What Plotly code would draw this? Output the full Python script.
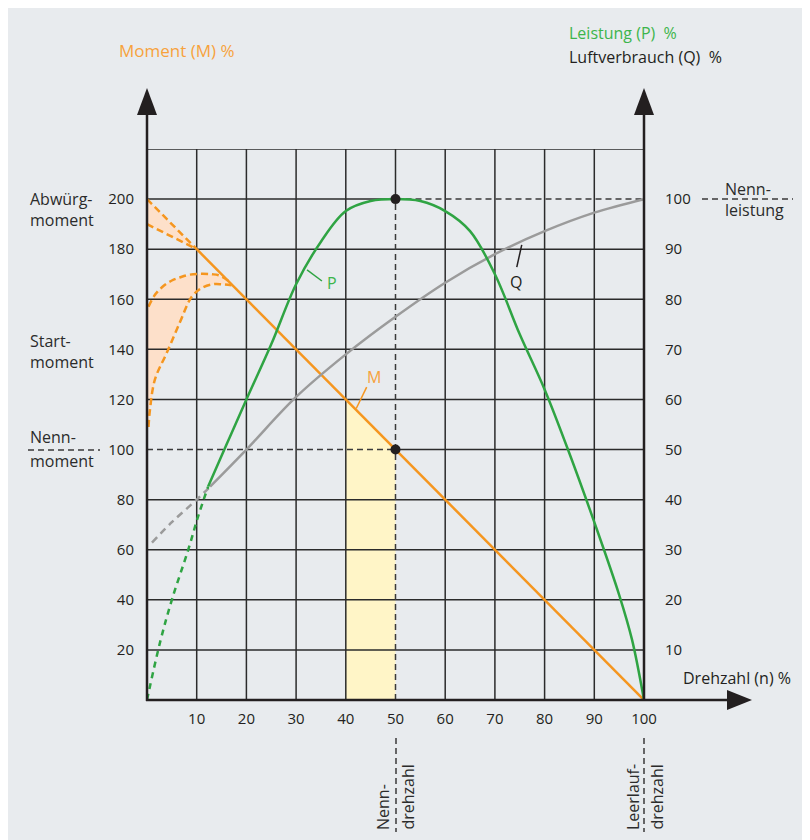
import plotly.graph_objects as go

# Drehzahl (n) in %, Moment (M) in % auf der linken Achse,
# Leistung (P) und Luftverbrauch (Q) in % auf der rechten Achse
grid_n = [10, 20, 30, 40, 50, 60, 70, 80, 90]
grid_m = [20, 40, 60, 80, 100, 120, 140, 160, 180, 200, 220]
x_ticks = [10, 20, 30, 40, 50, 60, 70, 80, 90, 100]
y_left_ticks = [20, 40, 60, 80, 100, 120, 140, 160, 180, 200]
y_right_ticks = [10, 20, 30, 40, 50, 60, 70, 80, 90, 100]

nenn_n = 50
nenn_m = 100
abwuerg_m = 200

# Moment
m_n = [10, 100]
m_vals = [180, 0]
m_start_n = [0, 10]
m_start_hi = [200, 180]
m_start_lo = [190, 180]
hump_hi_n = [0.3, 1.5, 3.3, 5, 6.6, 8.5, 11, 13, 14.4, 16.5]
hump_hi_m = [157, 161.5, 165.3, 167.5, 168.7, 169.8, 170.2, 170, 169.6, 167.2]
hump_lo_n = [0.3, 0.6, 1.6, 4, 6.6, 9, 11, 13.3, 15, 17]
hump_lo_m = [109, 116, 128, 138.7, 150.7, 161, 164.5, 166, 166, 165.6]
band_n = [40, 50]
band_m = [120, 100]

# Leistung
p_dash_n = [0, 2.6, 5, 8.3, 10.3, 12.3]
p_dash = [0, 11.4, 20, 30, 36.7, 42.6]
p_n = [12.3, 16, 20, 25, 30, 35, 40, 45, 50, 55, 60, 65, 70, 75, 80, 85, 90, 95, 97.6, 100]
p_vals = [42.6, 51, 60, 71, 83, 91.5, 97.6, 99.6, 100, 99.6, 97.6, 93.6, 85, 73, 62, 49.2,
          35.5, 21, 12, 0]

# Luftverbrauch
q_dash_n = [1, 5, 10, 12.7]
q_dash = [31.4, 35.5, 40, 42.6]
q_n = [12.7, 20, 30, 40, 50, 60, 70, 80, 90, 100]
q_vals = [42.6, 50, 60.5, 69, 76.5, 83.3, 89, 93.6, 97.3, 100]

ORANGE = "#f5961f"
ORANGE_TXT = "#f7a23c"
ORANGE_FILL = "#fde0ca"
YELLOW_FILL = "#fff5c7"
GREEN = "#2fa443"
GREEN_TXT = "#3db54b"
GRAY = "#9b9b9b"
INK = "#231f20"
BG = "#e8ebee"
FONT = "Open Sans"

# the page puts the figure 8 px in from the top left corner
OFF = 8
# plot area in screen pixels
L, R, T, B = 147, 644, 149, 700


def xp(px):
    return (px - L) / (R - L)


def yp(py):
    return (B - py) / (B - T)


fig = go.Figure()


def segs(pairs):
    xs, ys = [], []
    for (x0, y0), (x1, y1) in pairs:
        xs += [x0, x1, None]
        ys += [y0, y1, None]
    return xs, ys


def line(x, y, color, width, dash="solid", yaxis="y", shape="linear"):
    fig.add_trace(go.Scatter(x=x, y=y, mode="lines", yaxis=yaxis,
                             line=dict(color=color, width=width, dash=dash, shape=shape),
                             hoverinfo="skip", showlegend=False, cliponaxis=False))


def area(x, y, color, shape="linear"):
    fig.add_trace(go.Scatter(x=x, y=y, mode="lines", fill="toself", fillcolor=color,
                             line=dict(width=0, shape=shape), hoverinfo="skip", showlegend=False))


# fills under the grid
area([band_n[0]] + band_n + [band_n[1]], [0] + band_m + [0], YELLOW_FILL)
area(m_start_n + [0], m_start_hi[:1] + [m_start_hi[1], m_start_lo[0]], ORANGE_FILL)
area(hump_hi_n + hump_lo_n[::-1] + [0, 0], hump_hi_m + hump_lo_m[::-1] + [hump_lo_m[0], hump_hi_m[0]],
     ORANGE_FILL)

# grid
top = grid_m[-1]
solid = [((n, 0), (n, top)) for n in grid_n if n != nenn_n]
solid += [((nenn_n, abwuerg_m), (nenn_n, top))]
solid += [((0, m), (100, m)) for m in grid_m if m not in (nenn_m, abwuerg_m)]
solid += [((nenn_n, nenn_m), (100, nenn_m)), ((0, abwuerg_m), (nenn_n, abwuerg_m))]
gx, gy = segs(solid)
line(gx, gy, "#2b2b2b", 1.5)
dashed = [((0, nenn_m), (nenn_n, nenn_m)), ((nenn_n, 0), (nenn_n, abwuerg_m)),
          ((nenn_n, abwuerg_m), (100, abwuerg_m))]
dx, dy = segs(dashed)
line(dx, dy, "#3a3a3a", 1.5, "6px,4px")

# Moment
line(m_start_n, m_start_hi, ORANGE, 2.5, "7px,4px")
line(m_start_n, m_start_lo, ORANGE, 2.5, "7px,4px")
line(hump_hi_n, hump_hi_m, ORANGE, 2.5, "7px,4px", shape="spline")
line(hump_lo_n, hump_lo_m, ORANGE, 2.5, "7px,4px", shape="spline")
line(m_n, m_vals, ORANGE, 2.5)

# Luftverbrauch, Leistung
line(q_dash_n, q_dash, GRAY, 2.5, "7px,5px", "y2", "spline")
line(q_n, q_vals, GRAY, 2.5, yaxis="y2", shape="spline")
line(p_dash_n, p_dash, GREEN, 2.5, "6px,5px", "y2", "spline")
line(p_n, p_vals, GREEN, 2.5, yaxis="y2", shape="spline")

# Nennpunkte
fig.add_trace(go.Scatter(x=[nenn_n, nenn_n], y=[nenn_m / 2, abwuerg_m / 2], yaxis="y2",
                         mode="markers", marker=dict(color=INK, size=10),
                         hoverinfo="skip", showlegend=False, cliponaxis=False))

# leader lines for the curve labels
lx, ly = segs([((32.2, 171.7), (35.2, 167.3))])
line(lx, ly, GREEN, 1.5)
lx, ly = segs([((75.4, 181.7), (74.4, 172.8))])
line(lx, ly, INK, 1.5)
lx, ly = segs([((44.2, 124.9), (42.1, 116.4))])
line(lx, ly, ORANGE, 1.5)

shapes = []
axis_style = dict(color=INK, width=2.5)
for x0, y0, x1, y1 in [(L, B + 1, L, 110), (R, B + 1, R, 110), (L - 1, B, 730, B)]:
    shapes.append(dict(type="line", xref="paper", yref="paper", x0=xp(x0), y0=yp(y0),
                       x1=xp(x1), y1=yp(y1), line=axis_style))
for tip, b1, b2 in [((L, 88), (L - 10, 115), (L + 10, 115)),
                    ((R, 88), (R - 10, 115), (R + 10, 115)),
                    ((752, B), (727, B - 10), (727, B + 10))]:
    path = "M {},{} L {},{} L {},{} Z".format(xp(tip[0]), yp(tip[1]), xp(b1[0]), yp(b1[1]),
                                               xp(b2[0]), yp(b2[1]))
    shapes.append(dict(type="path", xref="paper", yref="paper", path=path,
                       fillcolor=INK, line=dict(width=0)))
dash_style = dict(color="#3a3a3a", width=1.5, dash="6px,4px")
for x0, y0, x1, y1 in [(28, 450, 100, 450), (702, 199, 793, 199),
                       (396, 738, 396, 832), (R, 738, R, 832)]:
    shapes.append(dict(type="line", xref="paper", yref="paper", x0=xp(x0), y0=yp(y0),
                       x1=xp(x1), y1=yp(y1), line=dash_style))

annotations = []


def label(text, px, py, color="#2b2b2b", xanchor="left", yanchor="middle", angle=0, size=16):
    annotations.append(dict(text=text, x=xp(px), y=yp(py), xref="paper", yref="paper",
                            xanchor=xanchor, yanchor=yanchor, textangle=angle, showarrow=False,
                            font=dict(family=FONT, size=size, color=color)))


label("Moment (M) %", 177, 50, ORANGE_TXT, "center", size=17)
label("Leistung (P)  %", 567, 33, GREEN_TXT)
label("Luftverbrauch (Q)  %", 567, 57, INK)
label("Abwürg-", 28, 199)
label("moment", 28, 220)
label("Start-", 28, 341)
label("moment", 28, 362)
label("Nenn-", 28, 437)
label("moment", 28, 461)
label("Nenn-", 723, 189)
label("leistung", 723, 210)
label("Drehzahl (n) %", 681, 678, INK)
label("Nenn-", 383, 832, xanchor="center", yanchor="bottom", angle=-90)
label("drehzahl", 407, 832, xanchor="center", yanchor="bottom", angle=-90)
label("Leerlauf-", 633, 832, xanchor="center", yanchor="bottom", angle=-90)
label("drehzahl", 656, 832, xanchor="center", yanchor="bottom", angle=-90)
label("P", 331.7, 282.7, GREEN_TXT, "center")
label("Q", 515.7, 282.3, INK, "center")
label("M", 374, 376.7, ORANGE_TXT, "center")

tick_font = dict(family=FONT, size=15, color=INK)
fig.update_layout(
    width=810, height=840,
    margin=dict(l=L - OFF, r=810 - R + OFF, t=T - OFF, b=840 - B + OFF),
    paper_bgcolor=BG, plot_bgcolor="rgba(0,0,0,0)",
    font=dict(family=FONT, size=16, color=INK),
    xaxis=dict(range=[0, 100], tickvals=x_ticks, ticks="", showgrid=False,
               zeroline=False, showline=False, tickfont=tick_font, ticklabelstandoff=8),
    yaxis=dict(range=[0, 220], tickvals=y_left_ticks, ticks="", showgrid=False,
               zeroline=False, showline=False, tickfont=tick_font, ticklabelstandoff=12),
    yaxis2=dict(range=[0, 110], tickvals=y_right_ticks, ticks="", showgrid=False,
                zeroline=False, showline=False, overlaying="y", side="right",
                tickfont=tick_font, ticklabelstandoff=20),
    shapes=shapes,
    annotations=annotations,
)

fig.write_html("out.html")
